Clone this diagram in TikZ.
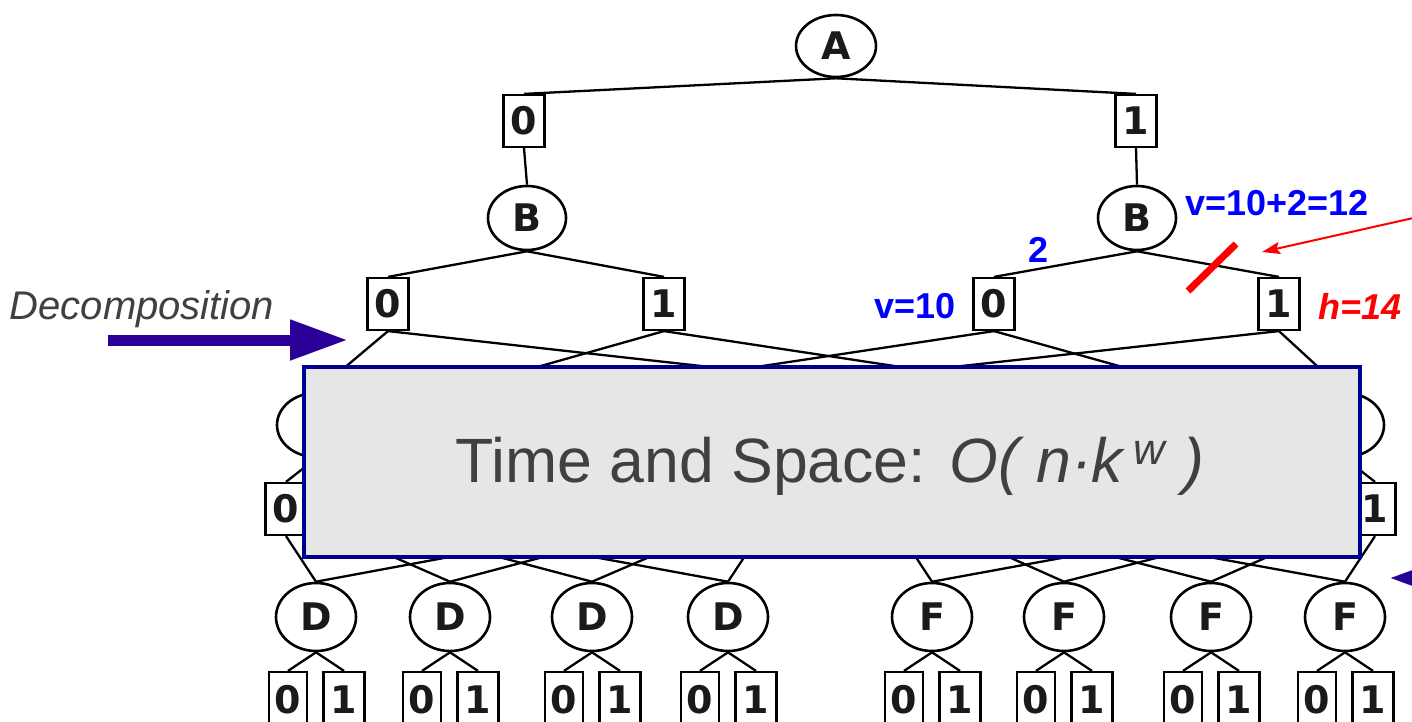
\documentclass[tikz,border=0pt]{standalone}
\usepackage{fontspec}
\setmainfont{Liberation Sans}
\newfontfamily\dejavu{DejaVu Sans}
\usetikzlibrary{arrows.meta,shapes.geometric}

\definecolor{ink}{HTML}{1A1A1A}
\definecolor{decoblue}{HTML}{2A0099}
\definecolor{boxedge}{HTML}{00008C}
\definecolor{boxfill}{HTML}{E6E6E6}
\definecolor{txtgray}{HTML}{404040}

\tikzset{
  ornode/.style={ellipse, draw, line width=1.3pt, fill=white, inner sep=0pt,
    minimum width=39pt, minimum height=32pt, text=ink,
    font=\dejavu\bfseries\fontsize{19}{19}\selectfont},
  andnode/.style={rectangle, draw, line width=1.1pt, fill=white, inner sep=0pt,
    minimum width=20.5pt, minimum height=26pt, text=ink,
    font=\dejavu\bfseries\fontsize{19}{19}\selectfont},
  arc/.style={line width=1.15pt},
  costbox/.style={rectangle, draw=boxedge, line width=2pt, fill=boxfill,
    minimum width=528pt, minimum height=95pt},
  vlabel/.style={text=blue, inner sep=0pt, font=\bfseries\fontsize{18}{18}\selectfont},
  hlabel/.style={text=red, inner sep=0pt, font=\bfseries\itshape\fontsize{18}{18}\selectfont},
}

\begin{document}
\begin{tikzpicture}[x=0.5pt, y=-0.5pt]
  \clip (0,0) rectangle (1412,722);

  \node[ornode, minimum width=40pt, minimum height=31pt] (A) at (836,46) {A};
  \node[andnode] (a0) at (524,121) {0};
  \node[andnode] (a1) at (1136,121) {1};
  \node[ornode] (b0) at (527,218) {B};
  \node[ornode] (b1) at (1137,218) {B};
  \node[andnode] (b00) at (388,304) {0};
  \node[andnode] (b01) at (664,304) {1};
  \node[andnode] (b10) at (994,304) {0};
  \node[andnode] (b11) at (1279,304) {1};

  \draw[arc] (A.south) -- (a0.north);
  \draw[arc] (A.south) -- (a1.north);
  \draw[arc] (a0.south) -- (b0.north);
  \draw[arc] (a1.south) -- (b1.north);
  \draw[arc] (b0.south) -- (b00.north);
  \draw[arc] (b0.south) -- (b01.north);
  \draw[arc] (b1.south) -- (b10.north);
  \draw[arc] (b1.south) -- (b11.north);

  \foreach \name/\x in {c1/316,c2/450,c3/592,c4/728,e1/932,e2/1064,e3/1211,e4/1345} {
    \node[ornode] (\name) at (\x,425) {};
    \node[andnode] (\name-0) at (\x-30,509) {};
    \node[andnode] (\name-1) at (\x+30,509) {};
    \draw[arc] (\name.south) -- (\name-0.north);
    \draw[arc] (\name.south) -- (\name-1.north);
  }
  \node[andnode] at (c1-0) {0};
  \node[andnode] at (e4-1) {1};

  \foreach \src/\dst in {b00/c1,b00/e1,b01/c2,b01/e2,b10/c3,b10/e3,b11/c4,b11/e4}
    \draw[arc] (\src.south) -- (\dst.north);

  \foreach \name/\x/\lbl in {d1/316/D,d2/450/D,d3/592/D,d4/728/D,f1/932/F,f2/1064/F,f3/1211/F,f4/1345/F} {
    \node[ornode, minimum width=40pt, minimum height=34pt] (\name) at (\x,617) {\lbl};
    \node[andnode, minimum width=19pt, minimum height=28pt] (\name-0) at (\x-28,700) {0};
    \node[andnode, minimum height=28pt] (\name-1) at (\x+28,700) {1};
    \draw[arc] (\name.south) -- (\name-0.north);
    \draw[arc] (\name.south) -- (\name-1.north);
  }

  \foreach \src/\dst in {c1-0/d1,c3-0/d1,c1-1/d2,c3-1/d2,c2-0/d3,c4-0/d3,c2-1/d4,c4-1/d4,
                         e1-0/f1,e3-0/f1,e1-1/f2,e3-1/f2,e2-0/f3,e4-0/f3,e2-1/f4,e4-1/f4}
    \draw[arc] (\src.south) -- (\dst.north);

  \node[costbox] (cost) at (831.5,461.5) {};
  \node[text=txtgray, inner sep=0pt, font=\fontsize{31.3}{37}\selectfont] (costtext) at (830,466)
    {Time and Space: \textit{O( n·k\,\textsuperscript{w} )}};

  \node[text=txtgray, inner sep=0pt, font=\itshape\fontsize{20}{20}\selectfont] (deco) at (142,309) {Decomposition};
  \coordinate (decostart) at (108,340);
  \coordinate (decotip) at (348,340);
  \draw[decoblue, line width=5.5pt, -{Triangle[length=29pt,width=19pt]}] (decostart) -- (decotip);
  \coordinate (lowstart) at (1480,578);
  \coordinate (lowtip) at (1389,578);
  \draw[decoblue, line width=5.5pt, -{Triangle[length=29pt,width=19pt]}] (lowstart) -- (lowtip);

  \node[vlabel] (vsum) at (1277,203) {v=10+2=12};
  \node[vlabel] (wgt) at (1038,250) {2};
  \node[vlabel] (vten) at (915,306) {v=10};
  \node[hlabel] (hval) at (1360,306) {h=14};

  \coordinate (cuta) at (1236,244);
  \coordinate (cutb) at (1188,291);
  \draw[red, line width=3.5pt] (cuta) -- (cutb);
  \coordinate (hfrom) at (1440,212);
  \coordinate (hto) at (1262,252);
  \draw[red, line width=1pt, -{Stealth[length=9pt,width=6pt,inset=1.5pt]}] (hfrom) -- (hto);
\end{tikzpicture}
\end{document}
